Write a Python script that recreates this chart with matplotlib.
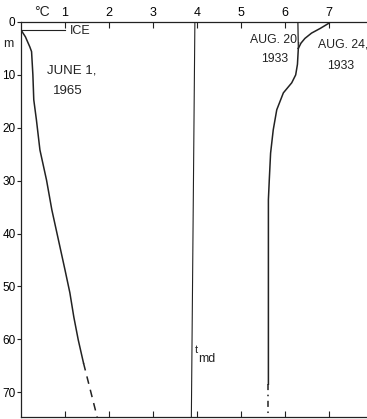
import matplotlib
matplotlib.use("Agg")
import matplotlib.pyplot as plt

plt.rcParams['font.family'] = ['Liberation Sans', 'DejaVu Sans']

# June 1, 1965 profile (temperature degC, depth m)
june_temp = [0.0, 0.1, 0.2, 0.24, 0.27, 0.29, 0.35, 0.43, 0.58, 0.70, 0.85, 1.0, 1.11, 1.20, 1.30, 1.42]
june_depth = [1.5, 2.8, 4.7, 5.6, 10.0, 14.7, 18.5, 24.2, 29.9, 35.5, 41.2, 46.9, 51.2, 55.8, 60.1, 64.5]
june_dash_temp = [1.42, 1.73]
june_dash_depth = [64.5, 74.7]

# August 1933 profiles
aug20_temp = [6.29, 6.30]
aug20_depth = [0.0, 5.0]
aug24_temp = [7.0, 6.8, 6.6, 6.45, 6.36, 6.30]
aug24_depth = [0.2, 1.2, 2.1, 3.1, 4.0, 5.0]
aug_temp = [6.30, 6.28, 6.24, 6.15, 5.96, 5.81, 5.73, 5.67, 5.64, 5.62, 5.62]
aug_depth = [5.0, 8.0, 10.0, 11.5, 13.4, 16.6, 20.4, 24.8, 29.9, 33.6, 68.5]
aug_dash_temp = [5.62, 5.62]
aug_dash_depth = [68.5, 74.7]

# temperature of maximum density
tmd_temp = [3.95, 3.87]
tmd_depth = [0.0, 74.7]

ice_temp = [0.0, 1.0]
ice_depth = [1.5, 1.5]

x_ticks = [1, 2, 3, 4, 5, 6, 7]
y_ticks = [0, 10, 20, 30, 40, 50, 60, 70]

col = '#222222'

fig = plt.figure(figsize=(3.67, 4.19), dpi=100)
ax = fig.add_axes([21 / 367, 2 / 419, 346 / 367, 395 / 419])

ax.plot(june_temp, june_depth, color=col, lw=1.1)
ax.plot(june_dash_temp, june_dash_depth, color=col, lw=1.1, ls=(0, (5, 4)))
ax.plot(aug20_temp, aug20_depth, color=col, lw=0.9)
ax.plot(aug24_temp, aug24_depth, color=col, lw=1.1)
ax.plot(aug_temp, aug_depth, color=col, lw=1.1)
ax.plot(aug_dash_temp, aug_dash_depth, color=col, lw=1.1, ls=(0, (4, 3, 1, 3)))
ax.plot(tmd_temp, tmd_depth, color=col, lw=0.8)
ax.plot(ice_temp, ice_depth, color=col, lw=0.8)

ax.set_xlim(0, 7.86)
ax.set_ylim(74.7, 0)

ax.spines['right'].set_visible(False)
for s in ['left', 'top', 'bottom']:
    ax.spines[s].set_color(col)
    ax.spines[s].set_linewidth(0.9)

ax.set_xticks(x_ticks)
ax.tick_params(axis='x', top=True, bottom=True, labeltop=True, labelbottom=False,
               direction='in', length=4, width=0.8, color=col, labelsize=9, pad=2)
ax.set_yticks(y_ticks)
ax.tick_params(axis='y', direction='out', length=3, width=0.8, color=col,
               labelsize=8.5, pad=1)

ax.text(0.48, -1.9, '°C', fontsize=10, ha='center', va='center', color=col, clip_on=False)
ax.text(-0.3, 4.2, 'm', fontsize=9, ha='center', va='center', color=col, clip_on=False)
ax.text(1.11, 1.7, 'ICE', fontsize=9, ha='left', va='center', color=col)
ax.text(0.59, 9.1, 'JUNE 1,', fontsize=9.5, ha='left', va='center', color=col)
ax.text(0.73, 13.0, '1965', fontsize=9.5, ha='left', va='center', color=col)
ax.text(5.20, 3.4, 'AUG. 20,', fontsize=8.8, ha='left', va='center', color=col)
ax.text(5.45, 7.0, '1933', fontsize=8.8, ha='left', va='center', color=col)
ax.text(6.75, 4.2, 'AUG. 24,', fontsize=8.8, ha='left', va='center', color=col)
ax.text(6.95, 8.3, '1933', fontsize=8.8, ha='left', va='center', color=col)
ax.text(3.94, 62.0, 't', fontsize=8, ha='left', va='center', color=col)
ax.text(4.02, 63.7, 'md', fontsize=9, ha='left', va='center', color=col)

fig.savefig('out.png', dpi=100)
